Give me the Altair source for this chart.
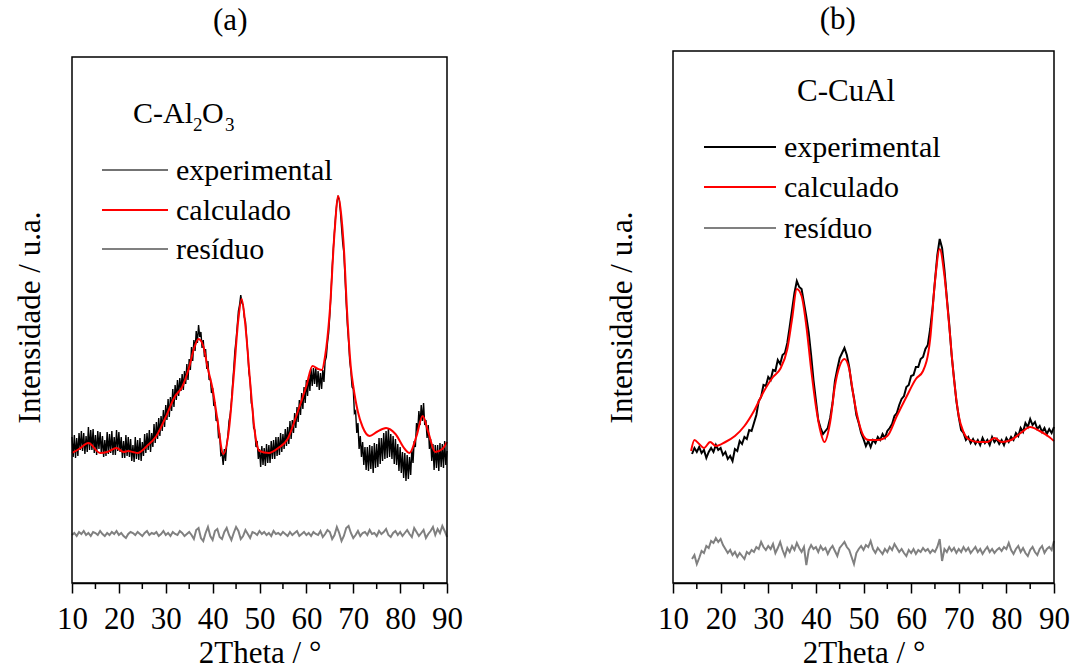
import altair as alt
import pandas as pd

FONT = "Liberation Serif"

# ---------------- Panel (a): C-Al2O3 ----------------
A_EXP_START, A_EXP_STEP = 10.0, 0.25
a_exp = [
    146, 126, 148, 125, 145, 127, 150, 133, 152, 132, 150, 129, 147, 131, 156, 133,
    153, 133, 154, 130, 148, 128, 152, 134, 151, 130, 147, 126, 143, 127, 151, 129,
    149, 130, 152, 128, 146, 128, 153, 132, 151, 131, 146, 125, 142, 125, 148, 127,
    146, 126, 144, 122, 138, 121, 146, 124, 143, 123, 145, 122, 141, 127, 149, 130,
    150, 133, 153, 131, 150, 136, 159, 140, 161, 144, 165, 147, 167, 152, 173, 156,
    178, 163, 184, 166, 186, 172, 194, 176, 198, 183, 203, 187, 205, 192, 209, 193,
    212, 199, 219, 203, 224, 213, 236, 222, 243, 232, 252, 240, 258, 246, 251, 235,
    243, 226, 234, 214, 222, 203, 206, 190, 195, 177, 181, 162, 166, 146, 148, 128,
    130, 118, 134, 122, 138, 147, 162, 168, 181, 198, 214, 232, 243, 257, 272, 278,
    288, 280, 278, 266, 262, 245, 230, 210, 203, 180, 175, 155, 153, 136, 142, 124,
    134, 116, 137, 118, 135, 117, 139, 120, 138, 120, 142, 124, 143, 124, 146, 127,
    146, 128, 150, 131, 149, 134, 154, 137, 156, 139, 162, 144, 163, 150, 170, 155,
    176, 161, 183, 168, 190, 174, 196, 180, 203, 187, 208, 192, 214, 197, 215, 199,
    216, 196, 212, 193, 210, 194, 213, 201, 222, 226, 240, 250, 268, 290, 315, 335,
    352, 368, 380, 386, 384, 372, 356, 340, 330, 305, 280, 258, 242, 222, 212, 196,
    194, 170, 172, 150, 160, 134, 147, 126, 141, 118, 136, 113, 136, 112, 138, 114,
    137, 110, 140, 115, 139, 116, 145, 119, 145, 122, 150, 124, 152, 125, 155, 126,
    149, 124, 147, 119, 144, 118, 139, 112, 136, 110, 131, 105, 130, 102, 128, 104,
    126, 108, 134, 120, 142, 136, 160, 152, 172, 158, 178, 162, 180, 158, 163, 145,
    158, 134, 144, 122, 139, 113, 138, 115, 138, 112, 140, 116, 139, 115, 142, 118,
    132,
]
a_calc_x = [10, 11.5, 13.5, 16, 17.5, 19.5, 21, 22, 23, 24, 26, 28, 30, 32, 33.5,
            35, 36, 37, 38, 39, 40, 41, 42.3, 43.5, 44.5, 45.5, 46.2, 47, 48, 49,
            50, 52, 54, 56, 58, 60, 61.3, 62.5, 63.3, 64, 65, 66, 66.8, 67.5, 68,
            68.7, 69.5, 70, 71, 72, 73.5, 75, 77, 79, 81, 82, 83.5, 84.8, 86, 87.5,
            89, 90]
a_calc_y = [130, 134, 140, 130, 131, 135, 131, 132, 131, 130, 137, 147, 166, 187, 196,
            216, 234, 244, 237, 214, 194, 164, 129, 154, 207, 264, 284, 257, 201, 151,
            132, 130, 135, 144, 169, 197, 217, 214, 213, 227, 272, 350, 387, 365, 335,
            270, 215, 197, 171, 156, 147, 151, 155, 149, 134, 130, 147, 167, 151, 131,
            134, 141]
A_RES_START, A_RES_STEP = 10.0, 0.5
a_res = [
    48, 50, 47, 51, 49, 52, 48, 50, 47, 51, 50, 48, 52, 49, 47, 50, 48, 51, 49, 52, 48,
    50, 47, 45, 49, 51, 50, 48, 51, 49, 47, 50, 52, 48, 50, 49, 51, 47, 49, 52, 48,
    50, 47, 51, 49, 48, 52, 50, 47, 49, 51, 48, 44, 53, 55, 45, 42, 50, 56, 47, 43,
    52, 54, 46, 44, 51, 55, 48, 43, 50, 56, 52, 44, 47, 53, 49, 45, 51, 50, 48, 52,
    49, 51, 48, 50, 47, 52, 49, 50, 48, 51, 49, 47, 51, 48, 50, 52, 47, 49, 51, 48,
    50, 47, 51, 49, 48, 52, 46, 49, 53, 51, 44, 48, 56, 50, 42, 47, 55, 57, 50, 45,
    48, 52, 47, 50, 51, 48, 53, 49, 50, 47, 52, 49, 51, 54, 48, 46, 50, 52, 48, 51,
    47, 50, 53, 49, 46, 55, 51, 47, 50, 53, 45, 49, 52, 56, 48, 54, 50, 57, 52, 46,
]

# ---------------- Panel (b): C-CuAl ----------------
B_EXP_START, B_EXP_STEP = 14.0, 0.5
b_exp = [
    129, 135, 131, 136, 130, 133, 125, 131, 135, 131, 138, 133, 135, 128, 131, 124,
    127, 122, 134, 132, 142, 139, 146, 144, 153, 152, 160, 168, 182, 186, 198, 197,
    206, 203, 213, 212, 223, 219, 228, 230, 240, 256, 273, 290, 302, 296, 294, 280,
    266, 250, 228, 203, 183, 163, 155, 149, 152, 155, 165, 180, 202, 214, 225, 230,
    235, 228, 216, 198, 185, 168, 160, 150, 144, 137, 142, 136, 143, 140, 146, 143,
    149, 145, 152, 155, 159, 167, 170, 178, 184, 187, 196, 198, 207, 208, 216, 216,
    224, 226, 234, 238, 254, 275, 302, 328, 344, 335, 313, 285, 259, 228, 205, 182,
    166, 153, 150, 143, 146, 140, 144, 139, 143, 138, 145, 140, 143, 138, 146, 141,
    144, 139, 143, 138, 145, 141, 146, 143, 150, 147, 155, 151, 160, 156, 164, 158,
    161, 154, 157, 151, 155, 149, 154, 150, 156,
]
b_calc_x = [13.8, 14.5, 15.5, 16.5, 17.8, 19, 21, 23, 25, 27, 29, 31, 32.5, 34, 35,
            36, 37, 38, 39, 40, 41, 41.8, 43, 44, 45, 46, 47, 48, 49, 50, 51, 53, 55,
            57, 59, 61, 62.5, 64, 65, 66, 67, 68, 69, 70, 71, 72, 74, 76, 77.5, 79,
            81, 83, 85, 87, 89, 90]
b_calc_y = [132, 143, 139, 135, 141, 137, 141, 147, 157, 172, 191, 206, 214, 234, 264,
            294, 287, 257, 214, 177, 151, 141, 161, 197, 217, 224, 214, 184, 161, 147,
            143, 143, 147, 167, 186, 204, 212, 244, 301, 334, 307, 257, 204, 167, 151,
            144, 141, 141, 145, 141, 143, 150, 156, 152, 146, 142]
B_RES_START, B_RES_STEP = 14.0, 0.5
b_res = [
    24, 28, 19, 25, 32, 30, 37, 35, 42, 40, 45, 41, 44, 38, 34, 30, 33, 28, 31, 26,
    30, 27, 24, 31, 29, 33, 31, 36, 34, 41, 36, 33, 37, 34, 39, 30, 35, 41, 33, 27,
    35, 31, 37, 33, 40, 35, 31, 36, 18, 33, 38, 34, 36, 31, 37, 33, 35, 29, 34, 37,
    32, 27, 35, 38, 41, 36, 33, 26, 19, 30, 34, 37, 33, 38, 36, 42, 34, 30, 35, 32,
    29, 34, 31, 36, 33, 39, 35, 31, 34, 30, 27, 33, 30, 34, 29, 33, 31, 35, 32, 34,
    30, 33, 31, 36, 44, 22, 34, 31, 36, 32, 35, 30, 34, 31, 36, 32, 35, 30, 33, 36,
    31, 34, 29, 33, 36, 31, 34, 30, 33, 35, 32, 36, 34, 40, 33, 29, 34, 37, 31, 35,
    30, 27, 33, 36, 31, 28, 34, 37, 30, 34, 36, 33, 42,
]

x_ticks = [10, 20, 30, 40, 50, 60, 70, 80, 90]
minor_ticks = [15, 25, 35, 45, 55, 65, 75, 85]

PLOT_H = 532  # common plot height (both panels share the same bottom)


def series_df(start, step, values):
    return pd.DataFrame({"x": [start + step * i for i in range(len(values))], "y": values})


def one():
    return alt.Data(values=[{}])


def panel(exp_df, calc_df, res_df, W, frame_top, title, title_dx, y_title_pad, exp_w,
          exp_legend_color, exp_legend_w, legend_pos, label_layers):
    H = PLOT_H
    xs = alt.Scale(domain=[10, 90], nice=False, zero=False)
    ys = alt.Scale(domain=[0, H], nice=False, zero=False)
    xaxis = alt.Axis(values=x_ticks, format="d", labelFont=FONT, labelFontSize=31,
                     labelColor="black", labelFlush=False, labelPadding=11,
                     tickSize=10, tickWidth=1.5, tickColor="black",
                     domainColor="black", domainWidth=1.5, grid=False,
                     title="2Theta / °", titleFont=FONT, titleFontSize=31,
                     titleFontWeight="normal", titleColor="black", titlePadding=4)
    yaxis = alt.Axis(labels=False, ticks=False, grid=False, domain=False,
                     title="Intensidade / u.a.", titleFont=FONT,
                     titleFontSize=31, titleFontWeight="normal", titleColor="black",
                     titlePadding=y_title_pad)
    X = alt.X("x:Q", scale=xs, axis=xaxis)
    Y = alt.Y("y:Q", scale=ys, axis=yaxis)

    frame = alt.Chart(one()).mark_rect(fillOpacity=0, stroke="black", strokeWidth=1.5).encode(
        x=alt.value(0), x2=alt.value(W), y=alt.value(frame_top), y2=alt.value(H))
    exp = alt.Chart(exp_df).mark_line(color="black", strokeWidth=exp_w).encode(x=X, y=Y)
    calc = alt.Chart(calc_df).mark_line(color="#ff0000", strokeWidth=2,
                                        interpolate="monotone").encode(x=X, y=Y)
    res = alt.Chart(res_df).mark_line(color="#808080", strokeWidth=2).encode(x=X, y=Y)
    minor = alt.Chart(pd.DataFrame({"m": minor_ticks})).mark_rule(
        color="black", strokeWidth=1.5).encode(
        x=alt.X("m:Q", scale=xs, axis=xaxis), y=alt.value(H), y2=alt.value(H + 6))

    lx1, lx2, tx, ly = legend_pos
    names = ["experimental", "calculado", "resíduo"]
    colors = [exp_legend_color, "#ff0000", "#808080"]
    widths = [exp_legend_w, 2, 2]
    legend_layers = []
    for name, col, w, yy in zip(names, colors, widths, ly):
        legend_layers.append(
            alt.Chart(one()).mark_rule(color=col, strokeWidth=w).encode(
                x=alt.value(lx1), x2=alt.value(lx2), y=alt.value(yy)))
        legend_layers.append(
            alt.Chart(one()).mark_text(text=name, font=FONT, fontSize=30, align="left",
                                       baseline="alphabetic", color="black").encode(
                x=alt.value(tx), y=alt.value(yy + 10)))

    labels = []
    for txt, x, y, fs in label_layers:
        labels.append(
            alt.Chart(one()).mark_text(text=txt, font=FONT, fontSize=fs, align="left",
                                       baseline="alphabetic", color="black").encode(
                x=alt.value(x), y=alt.value(y)))

    return alt.layer(exp, calc, res, minor, frame, *legend_layers, *labels).properties(
        width=W, height=H,
        title=alt.TitleParams(text=title, font=FONT, fontSize=31, fontWeight="normal",
                              color="black", offset=14, frame="bounds",
                              anchor="middle", dx=title_dx))


# panel (a): frame top 6 px below panel (b)'s frame top
chart_a = panel(
    series_df(A_EXP_START, A_EXP_STEP, a_exp),
    pd.DataFrame({"x": a_calc_x, "y": a_calc_y}),
    series_df(A_RES_START, A_RES_STEP, a_res),
    375, 6, "(a)", -8, 26, 1.4, "#444444", 1.5,
    (30, 96, 104, [119, 159, 198]),
    [("C-Al", 61, 72, 30), ("2", 121, 80, 19), ("O", 130, 72, 30), ("3", 153, 80, 19)],
)

chart_b = panel(
    series_df(B_EXP_START, B_EXP_STEP, b_exp),
    pd.DataFrame({"x": b_calc_x, "y": b_calc_y}),
    series_df(B_RES_START, B_RES_STEP, b_res),
    381, 0, "(b)", 0, 35, 2, "black", 2,
    (31, 103, 111, [96, 136, 177]),
    [("C-CuAl", 124, 50, 31)],
)

chart = alt.hconcat(chart_a, chart_b, spacing=142).configure(font=FONT).configure_view(
    stroke="transparent").configure_axis(
    labelFont=FONT, titleFont=FONT).configure_title(font=FONT).configure_text(
    font=FONT).properties(
    padding={"left": 13, "top": 3, "right": 0, "bottom": 0}, background="white")

chart.save("out.html", embed_options={"renderer": "svg", "actions": False})
